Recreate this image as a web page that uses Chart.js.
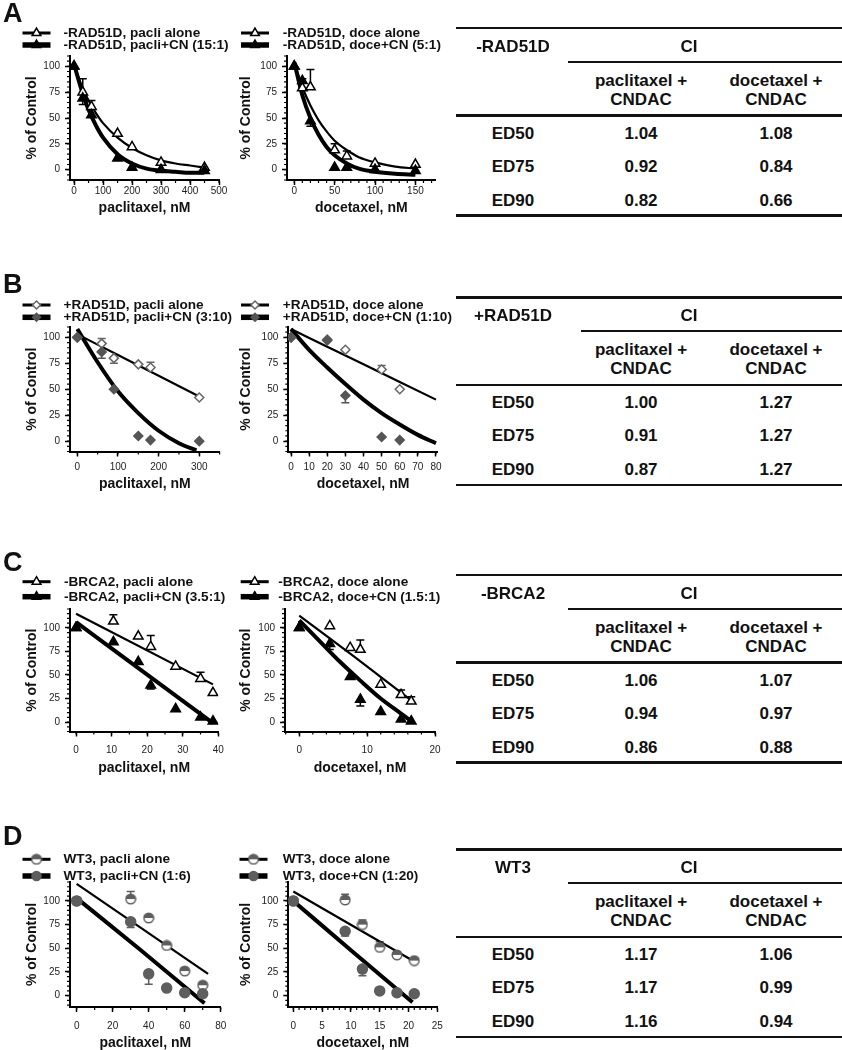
<!DOCTYPE html>
<html>
<head>
<meta charset="utf-8">
<script src="https://cdn.jsdelivr.net/npm/chart.js@4.4.0/dist/chart.umd.min.js"></script>
<style>
  body { margin: 0; background: #fff; width: 842px; height: 1050px; position: relative; overflow: hidden;
         font-family: "Liberation Sans", Arial, Helvetica, sans-serif; color: #111; }
  .letter { position: absolute; left: 3px; font-size: 27px; font-weight: bold; line-height: 27px; }
  .leg { position: absolute; font-size: 13.6px; font-weight: bold; line-height: 16px; white-space: nowrap; }
  .cv { position: absolute; }
  .rule { position: absolute; background: #111; }
  .tt { position: absolute; font-size: 17px; font-weight: bold; line-height: 19px; white-space: nowrap;
        transform: translate(-50%, -50%); }
</style>
</head>
<body>
<script>
// ---------- A: -RAD51D ----------
const aPacliDose = [0, 30, 60, 150, 200, 300, 450];
const aPacliAlone = [100, 75, 61, 35, 22, 7, 2];
const aPacliAloneErr = [null, 13, 6, null, null, null, null];
const aPacliCN = [100, 69, 53, 11, 2, 0, -1];
const aPacliCNErr = [null, -6, null, null, null, null, null];
const aPacliFitX = [0, 25, 50, 75, 100, 150, 200, 250, 300, 350, 400, 450];
const aPacliAloneFit = [102, 82, 67, 55, 45, 31, 21, 14, 9, 6, 4, 2];
const aPacliCNFit = [102, 78, 58, 43, 31, 15, 6, 1, -1, -2, -3, -3];

const aDoceDose = [0, 10, 20, 50, 65, 100, 150];
const aDoceAlone = [100, 79, 80, 19, 13, 6, 5];
const aDoceAloneErr = [null, 9, 17, 6, 5, null, null];
const aDoceCN = [100, 86, 47, 2, 2, 0, -1];
const aDoceCNErr = [null, null, -5, null, null, null, null];
const aDoceFitX = [0, 10, 20, 30, 40, 50, 65, 80, 100, 125, 150];
const aDoceAloneFit = [104, 80, 62, 48, 37, 28, 19, 12, 7, 3, 1];
const aDoceCNFit = [104, 72, 50, 34, 22, 14, 6, 1, -2, -4, -5];

// ---------- B: +RAD51D ----------
const bPacliDose = [0, 60, 90, 150, 180, 300];
const bPacliAlone = [100, 94, 80, 74, 71, 42];
const bPacliAloneErr = [null, 5, -5, null, 5, null];
const bPacliCN = [100, 86, 50, 5, 1, 0];
const bPacliCNErr = [null, -6, null, null, null, null];
const bPacliAloneFitX = [0, 100, 200, 300];
const bPacliAloneFit = [103, 83, 63, 43];
const bPacliCNFitX = [0, 50, 100, 150, 200, 250, 293];
const bPacliCNFit = [108, 76, 48, 27, 10, -2, -9];

const bDoceDose = [0, 20, 30, 50, 60];
const bDoceAlone = [100, 98, 88, 69, 50];
const bDoceAloneErr = [null, null, null, 4, null];
const bDoceCN = [100, 97, 44, 4, 1];
const bDoceCNErr = [null, null, -7, null, null];
const bDoceAloneFitX = [0, 20, 40, 60, 80];
const bDoceAloneFit = [108, 91, 74, 57, 40];
const bDoceCNFitX = [0, 10, 20, 30, 40, 50, 60, 70, 80];
const bDoceCNFit = [108, 88, 71, 55, 40, 27, 16, 6, -2];

// ---------- C: -BRCA2 ----------
const cPacliDose = [0, 10.5, 17.5, 21, 28, 35, 38.5];
const cPacliAlone = [100, 107, 91, 80, 59, 46, 31];
const cPacliAloneErr = [null, 7, null, 12, null, 7, null];
const cPacliCN = [100, 85, 64, 39, 14, 5, 1];
const cPacliCNErr = [null, null, null, -4, null, null, null];
const cPacliFitX = [0, 38.5];
const cPacliAloneFit = [115, 40];
const cPacliCNFit = [106, -1];

const cDoceDose = [0, 4.5, 7.5, 9, 12, 15, 16.5];
const cDoceAlone = [100, 102, 79, 77, 40, 29, 22];
const cDoceAloneErr = [null, null, null, 10, null, 5, 5];
const cDoceCN = [100, 83, 48, 24, 11, 3, 1];
const cDoceCNErr = [null, -6, null, -7, null, null, null];
const cDoceAloneFitX = [0, 8, 16.5];
const cDoceAloneFit = [113, 70, 23];
const cDoceCNFitX = [0, 3, 6, 9, 12, 15, 16.5];
const cDoceCNFit = [108, 86, 64, 44, 25, 9, 1];

// ---------- D: WT3 ----------
const dPacliDose = [0, 30, 40, 50, 60, 70];
const dPacliAlone = [100, 102, 82, 53, 26, 11];
const dPacliAloneErr = [null, 8, null, null, 3, null];
const dPacliCN = [100, 78, 23, 8, 3, 2];
const dPacliCNErr = [null, -6, -11, null, null, null];
const dPacliAloneFitX = [0, 73];
const dPacliAloneFit = [118, 23];
const dPacliCNFitX = [0, 35, 71];
const dPacliCNFit = [103, 49, -8];

const dDoceDose = [0, 9, 12, 15, 18, 21];
const dDoceAlone = [100, 101, 75, 51, 43, 37];
const dDoceAloneErr = [null, 6, 5, 6, null, null];
const dDoceCN = [100, 68, 28, 5, 3, 2];
const dDoceCNErr = [null, -5, -7, null, null, null];
const dDoceAloneFitX = [0, 21];
const dDoceAloneFit = [110, 36];
const dDoceCNFitX = [0, 10, 20.7];
const dDoceCNFit = [100, 48, -7];

// ---------- tick labels ----------
const yTicks = [0, 25, 50, 75, 100];
const aPacliTicks = [0, 100, 200, 300, 400, 500];
const aDoceTicks = [0, 50, 100, 150];
const bPacliTicks = [0, 100, 200, 300];
const bDoceTicks = [0, 10, 20, 30, 40, 50, 60, 70, 80];
const cPacliTicks = [0, 10, 20, 30, 40];
const cDoceTicks = [0, 10, 20];
const dPacliTicks = [0, 20, 40, 60, 80];
const dDoceTicks = [0, 5, 10, 15, 20, 25];

// ---------- legend labels ----------
const aPacliLabels = ['-RAD51D, pacli alone', '-RAD51D, pacli+CN (15:1)'];
const aDoceLabels = ['-RAD51D, doce alone', '-RAD51D, doce+CN (5:1)'];
const bPacliLabels = ['+RAD51D, pacli alone', '+RAD51D, pacli+CN (3:10)'];
const bDoceLabels = ['+RAD51D, doce alone', '+RAD51D, doce+CN (1:10)'];
const cPacliLabels = ['-BRCA2, pacli alone', '-BRCA2, pacli+CN (3.5:1)'];
const cDoceLabels = ['-BRCA2, doce alone', '-BRCA2, doce+CN (1.5:1)'];
const dPacliLabels = ['WT3, pacli alone', 'WT3, pacli+CN (1:6)'];
const dDoceLabels = ['WT3, doce alone', 'WT3, doce+CN (1:20)'];

// ---------- CI tables ----------
const tableNames = ['-RAD51D', '+RAD51D', '-BRCA2', 'WT3'];
const edLabels = ['ED50', 'ED75', 'ED90'];
const ciPacliA = [1.04, 0.92, 0.82], ciDoceA = [1.08, 0.84, 0.66];
const ciPacliB = [1.00, 0.91, 0.87], ciDoceB = [1.27, 1.27, 1.27];
const ciPacliC = [1.06, 0.94, 0.86], ciDoceC = [1.07, 0.97, 0.88];
const ciPacliD = [1.17, 1.17, 1.16], ciDoceD = [1.06, 0.99, 0.94];

const FONT = '"Liberation Sans", Arial, Helvetica, sans-serif';
Chart.defaults.font.family = FONT;
Chart.defaults.color = '#222';

// half filled circle used for WT3 "alone"
function halfCircle(color) {
  const c = document.createElement('canvas');
  c.width = 12; c.height = 12;
  const g = c.getContext('2d');
  g.beginPath(); g.arc(6, 6, 4.8, 0, 2 * Math.PI); g.fillStyle = '#fff'; g.fill();
  g.beginPath(); g.arc(6, 6, 4.8, Math.PI, 2 * Math.PI); g.closePath(); g.fillStyle = color; g.fill();
  g.beginPath(); g.arc(6, 6, 4.8, 0, 2 * Math.PI); g.lineWidth = 1.5; g.strokeStyle = color; g.stroke();
  return c;
}

const mk = {
  triOpen: { pointStyle: 'triangle', radius: 5.5, bg: '#fff', border: '#000' },
  triFill: { pointStyle: 'triangle', radius: 5.5, bg: '#000', border: '#000' },
  diaOpen: { pointStyle: 'rectRot', radius: 4.5, bg: '#fff', border: '#666' },
  diaFill: { pointStyle: 'rectRot', radius: 4.5, bg: '#555', border: '#555' },
  cirHalf: { pointStyle: halfCircle('#5e5e5e'), radius: 5, bg: '#5e5e5e', border: '#5e5e5e' },
  cirFill: { pointStyle: 'circle', radius: 5, bg: '#5e5e5e', border: '#5e5e5e' }
};

function pts(xs, ys) { return xs.map((x, i) => ({ x: x, y: ys[i] })); }

function markers(xs, ys, err, st) {
  return {
    data: pts(xs, ys), err: err, errColor: st.border, mk: st, showLine: false,
    pointStyle: st.pointStyle, pointRadius: st.radius, pointHoverRadius: st.radius,
    pointBackgroundColor: st.bg, pointBorderColor: st.border, pointBorderWidth: 1.5
  };
}

function fit(xs, ys, w) {
  return {
    data: pts(xs, ys), showLine: true, borderColor: '#000', borderWidth: w,
    pointRadius: 0, pointHoverRadius: 0, cubicInterpolationMode: 'monotone', fill: false
  };
}

// error bars drawn under the markers
const errorBarPlugin = {
  id: 'errorBars',
  beforeDatasetsDraw(chart) {
    const ctx = chart.ctx, ys = chart.scales.y;
    chart.data.datasets.forEach((ds, i) => {
      if (!ds.err) return;
      const meta = chart.getDatasetMeta(i);
      ds.err.forEach((e, j) => {
        if (e == null) return;
        const p = meta.data[j];
        const yEnd = ys.getPixelForValue(ds.data[j].y + e);
        ctx.save();
        ctx.strokeStyle = ds.errColor;
        ctx.lineWidth = 1.5;
        ctx.beginPath();
        ctx.moveTo(p.x, p.y); ctx.lineTo(p.x, yEnd);
        ctx.moveTo(p.x - 4, yEnd); ctx.lineTo(p.x + 4, yEnd);
        ctx.stroke();
        ctx.restore();
      });
    });
  }
};

// short minor ticks between the labelled ones
const minorTickPlugin = {
  id: 'minorTicks',
  afterDraw(chart, args, opts) {
    const ctx = chart.ctx, a = chart.chartArea;
    const xs = chart.scales.x, ys = chart.scales.y;
    ctx.save();
    ctx.strokeStyle = '#000';
    ctx.lineWidth = 1.2;
    ctx.beginPath();
    for (let v = Math.ceil(xs.min / opts.x) * opts.x; v <= xs.max + 1e-9; v += opts.x) {
      const px = xs.getPixelForValue(v);
      ctx.moveTo(px, a.bottom); ctx.lineTo(px, a.bottom + 3);
    }
    for (let v = Math.ceil(ys.min / opts.y) * opts.y; v <= ys.max + 1e-9; v += opts.y) {
      const py = ys.getPixelForValue(v);
      ctx.moveTo(a.left, py); ctx.lineTo(a.left - 3, py);
    }
    ctx.stroke();
    ctx.restore();
  }
};

// line + marker symbols for the legend above each plot
const legendSymbolPlugin = {
  id: 'legendSymbols',
  afterDraw(chart, args, opts) {
    const ctx = chart.ctx;
    const rows = [chart.data.datasets[1], chart.data.datasets[0]]; // alone, +CN
    rows.forEach((ds, k) => {
      const y = opts.y[k];
      ctx.save();
      ctx.strokeStyle = '#000';
      ctx.lineWidth = k === 0 ? 3 : 5.5;
      ctx.beginPath();
      ctx.moveTo(opts.x, y); ctx.lineTo(opts.x + 28, y);
      ctx.stroke();
      ctx.fillStyle = ds.mk.bg;
      ctx.strokeStyle = ds.mk.border;
      ctx.lineWidth = 1.5;
      Chart.helpers.drawPoint(ctx, { pointStyle: ds.mk.pointStyle, radius: ds.mk.radius - 0.5, rotation: 0, borderWidth: 1.5 }, opts.x + 14, y);
      ctx.restore();
    });
  }
};

function addDiv(cls, text, left, top) {
  const d = document.createElement('div');
  d.className = cls;
  d.textContent = text;
  d.style.left = left + 'px';
  d.style.top = top + 'px';
  document.body.appendChild(d);
  return d;
}

function makeChart(p) {
  const W = p.cRight - p.cLeft;
  const fitH = p.titleGap + 8.4;
  const H = Math.ceil(p.areaBottom + fitH - p.cTop);
  const cv = document.createElement('canvas');
  cv.className = 'cv';
  cv.width = W; cv.height = H;
  cv.style.left = p.cLeft + 'px';
  cv.style.top = p.cTop + 'px';
  cv.style.width = W + 'px';
  cv.style.height = H + 'px';
  document.body.appendChild(cv);

  p.labels.forEach((t, k) => addDiv('leg', t, p.legTextX, p.legY[k] - 8));

  new Chart(cv, {
    type: 'scatter',
    data: { datasets: p.sets },
    options: {
      responsive: false,
      animation: false,
      devicePixelRatio: 1,
      events: [],
      layout: {
        padding: {
          left: 0,
          top: p.areaTop - p.cTop,
          right: W - (p.areaRight - p.cLeft),
          bottom: H - (p.areaBottom - p.cTop) - fitH
        }
      },
      plugins: {
        legend: { display: false },
        tooltip: { enabled: false },
        minorTicks: { x: p.xMinor, y: 5 },
        legendSymbols: { x: p.legX - p.cLeft, y: p.legY.map(v => v - p.cTop) }
      },
      scales: {
        x: {
          type: 'linear', min: p.xMin, max: p.xMax,
          afterBuildTicks: s => { s.ticks = p.xTicks.map(v => ({ value: v })); },
          afterFit: s => { s.height = fitH; s.paddingLeft = 0; s.paddingRight = 0; },
          border: { display: true, color: '#000', width: 2 },
          grid: { drawOnChartArea: false, drawTicks: true, tickLength: 5, tickColor: '#000', tickWidth: 1.5 },
          ticks: { padding: p.labelGap - 11, autoSkip: false, maxRotation: 0, font: { size: 10 }, color: '#222' },
          title: { display: true, text: p.xTitle, padding: 0, color: '#111', font: { size: 14, weight: 'bold' } }
        },
        y: {
          type: 'linear', min: p.yMin, max: p.yMax,
          afterBuildTicks: s => { s.ticks = yTicks.map(v => ({ value: v })); },
          afterFit: s => { s.width = p.areaLeft - p.cLeft; s.paddingTop = 0; s.paddingBottom = 0; },
          border: { display: true, color: '#000', width: 2 },
          grid: { drawOnChartArea: false, drawTicks: true, tickLength: 5, tickColor: '#000', tickWidth: 1.5 },
          ticks: { padding: 5, autoSkip: false, font: { size: 10 }, color: '#222' },
          title: { display: true, text: '% of Control', color: '#111', font: { size: 14, weight: 'bold' },
                   padding: { top: p.yTitleX - p.cLeft - 8.4, bottom: 0 } }
        }
      }
    },
    plugins: [errorBarPlugin, minorTickPlugin, legendSymbolPlugin]
  });
}

const rowA = { cTop: 24, areaTop: 56, areaBottom: 180, yMin: -10, yMax: 110, labelGap: 11, titleGap: 28, legY: [33, 45] };
const rowB = { cTop: 296, areaTop: 327, areaBottom: 451.5, yMin: -10, yMax: 110, labelGap: 16, titleGap: 32.5, legY: [305, 317.3] };
const rowC = { cTop: 573, areaTop: 609, areaBottom: 731.5, yMin: -10, yMax: 120, labelGap: 19, titleGap: 36.5, legY: [581.7, 596.7] };
const rowD = { cTop: 850, areaTop: 882, areaBottom: 1007, yMin: -12, yMax: 120, labelGap: 19, titleGap: 36.5, legY: [859.3, 876] };
const col1 = { cLeft: 0, cRight: 228, yTitleX: 32.5, legX: 22.5, legTextX: 63.5, xTitle: 'paclitaxel, nM' };
const col2 = { cLeft: 228, cRight: 445, yTitleX: 246.5, legX: 241, legTextX: 282.7, xTitle: 'docetaxel, nM' };

const panels = [
  Object.assign({}, rowA, col1, {
    areaLeft: 70, areaRight: 219, xMin: -14, xMax: 500, xTicks: aPacliTicks, xMinor: 50, labels: aPacliLabels,
    sets: [markers(aPacliDose, aPacliCN, aPacliCNErr, mk.triFill), markers(aPacliDose, aPacliAlone, aPacliAloneErr, mk.triOpen),
           fit(aPacliFitX, aPacliAloneFit, 2.2), fit(aPacliFitX, aPacliCNFit, 4)]
  }),
  Object.assign({}, rowA, col2, {
    areaLeft: 287, areaRight: 435.6, xMin: -9, xMax: 175, xTicks: aDoceTicks, xMinor: 10, labels: aDoceLabels,
    sets: [markers(aDoceDose, aDoceCN, aDoceCNErr, mk.triFill), markers(aDoceDose, aDoceAlone, aDoceAloneErr, mk.triOpen),
           fit(aDoceFitX, aDoceAloneFit, 2.2), fit(aDoceFitX, aDoceCNFit, 4)]
  }),
  Object.assign({}, rowB, col1, {
    areaLeft: 70, areaRight: 219.6, xMin: -18, xMax: 350, xTicks: bPacliTicks, xMinor: 50, labels: bPacliLabels,
    sets: [markers(bPacliDose, bPacliCN, bPacliCNErr, mk.diaFill), markers(bPacliDose, bPacliAlone, bPacliAloneErr, mk.diaOpen),
           fit(bPacliAloneFitX, bPacliAloneFit, 2.2), fit(bPacliCNFitX, bPacliCNFit, 4)]
  }),
  Object.assign({}, rowB, col2, {
    areaLeft: 288.3, areaRight: 437.8, xMin: -1.5, xMax: 81, xTicks: bDoceTicks, xMinor: 10, labels: bDoceLabels,
    sets: [markers(bDoceDose, bDoceCN, bDoceCNErr, mk.diaFill), markers(bDoceDose, bDoceAlone, bDoceAloneErr, mk.diaOpen),
           fit(bDoceAloneFitX, bDoceAloneFit, 2.2), fit(bDoceCNFitX, bDoceCNFit, 4)]
  }),
  Object.assign({}, rowC, col1, {
    areaLeft: 70, areaRight: 218.3, xMin: -1.7, xMax: 40, xTicks: cPacliTicks, xMinor: 5, labels: cPacliLabels,
    legTextX: 64,
    sets: [markers(cPacliDose, cPacliCN, cPacliCNErr, mk.triFill), markers(cPacliDose, cPacliAlone, cPacliAloneErr, mk.triOpen),
           fit(cPacliFitX, cPacliAloneFit, 2.2), fit(cPacliFitX, cPacliCNFit, 4)]
  }),
  Object.assign({}, rowC, col2, {
    areaLeft: 285, areaRight: 435, xMin: -2.1, xMax: 20, xTicks: cDoceTicks, xMinor: 2, labels: cDoceLabels,
    legX: 240.7, legTextX: 278.3,
    sets: [markers(cDoceDose, cDoceCN, cDoceCNErr, mk.triFill), markers(cDoceDose, cDoceAlone, cDoceAloneErr, mk.triOpen),
           fit(cDoceAloneFitX, cDoceAloneFit, 2.2), fit(cDoceCNFitX, cDoceCNFit, 4)]
  }),
  Object.assign({}, rowD, col1, {
    areaLeft: 70, areaRight: 220.7, xMin: -3.7, xMax: 80, xTicks: dPacliTicks, xMinor: 10, labels: dPacliLabels,
    sets: [markers(dPacliDose, dPacliCN, dPacliCNErr, mk.cirFill), markers(dPacliDose, dPacliAlone, dPacliAloneErr, mk.cirHalf),
           fit(dPacliAloneFitX, dPacliAloneFit, 2.2), fit(dPacliCNFitX, dPacliCNFit, 4)]
  }),
  Object.assign({}, rowD, col2, {
    areaLeft: 288.3, areaRight: 437.3, xMin: -0.87, xMax: 25, xTicks: dDoceTicks, xMinor: 1, labels: dDoceLabels,
    legX: 239.5,
    sets: [markers(dDoceDose, dDoceCN, dDoceCNErr, mk.cirFill), markers(dDoceDose, dDoceAlone, dDoceAloneErr, mk.cirHalf),
           fit(dDoceAloneFitX, dDoceAloneFit, 2.2), fit(dDoceCNFitX, dDoceCNFit, 4)]
  })
];

panels.forEach(makeChart);

// panel letters
[['A', 0], ['B', 271], ['C', 549], ['D', 823]].forEach(l => addDiv('letter', l[0], 3, l[1]));

// CI tables
function rule(x1, x2, y, h) {
  const d = document.createElement('div');
  d.className = 'rule';
  d.style.left = x1 + 'px';
  d.style.width = (x2 - x1) + 'px';
  d.style.top = (y - h / 2) + 'px';
  d.style.height = h + 'px';
  document.body.appendChild(d);
}
function cell(text, cx, cy) {
  return addDiv('tt', text, cx, cy);
}
const tableTops = [28, 297.3, 575, 849.3];
const ciPacli = [ciPacliA, ciPacliB, ciPacliC, ciPacliD];
const ciDoce = [ciDoceA, ciDoceB, ciDoceC, ciDoceD];
tableTops.forEach((T, t) => {
  const cLab = 513, cPac = 641, cDoc = 776;
  rule(456, 842, T, 2.5);
  cell(tableNames[t], cLab, T + 17.5);
  cell('CI', 689, T + 17.5);
  rule(t === 1 ? 581 : 568, 842, T + 34, 2.2);
  cell('paclitaxel +', cPac, T + 52);
  cell('CNDAC', cPac, T + 70.5);
  cell('docetaxel +', cDoc, T + 52);
  cell('CNDAC', cDoc, T + 70.5);
  rule(456, 842, T + 87.7, 2.5);
  edLabels.forEach((e, r) => {
    const y = T + 104.5 + r * 33.5;
    cell(e, cLab, y);
    cell(ciPacli[t][r].toFixed(2), cPac, y);
    cell(ciDoce[t][r].toFixed(2), cDoc, y);
  });
  rule(456, 842, T + 187.5, 2.5);
});
</script>
</body>
</html>
